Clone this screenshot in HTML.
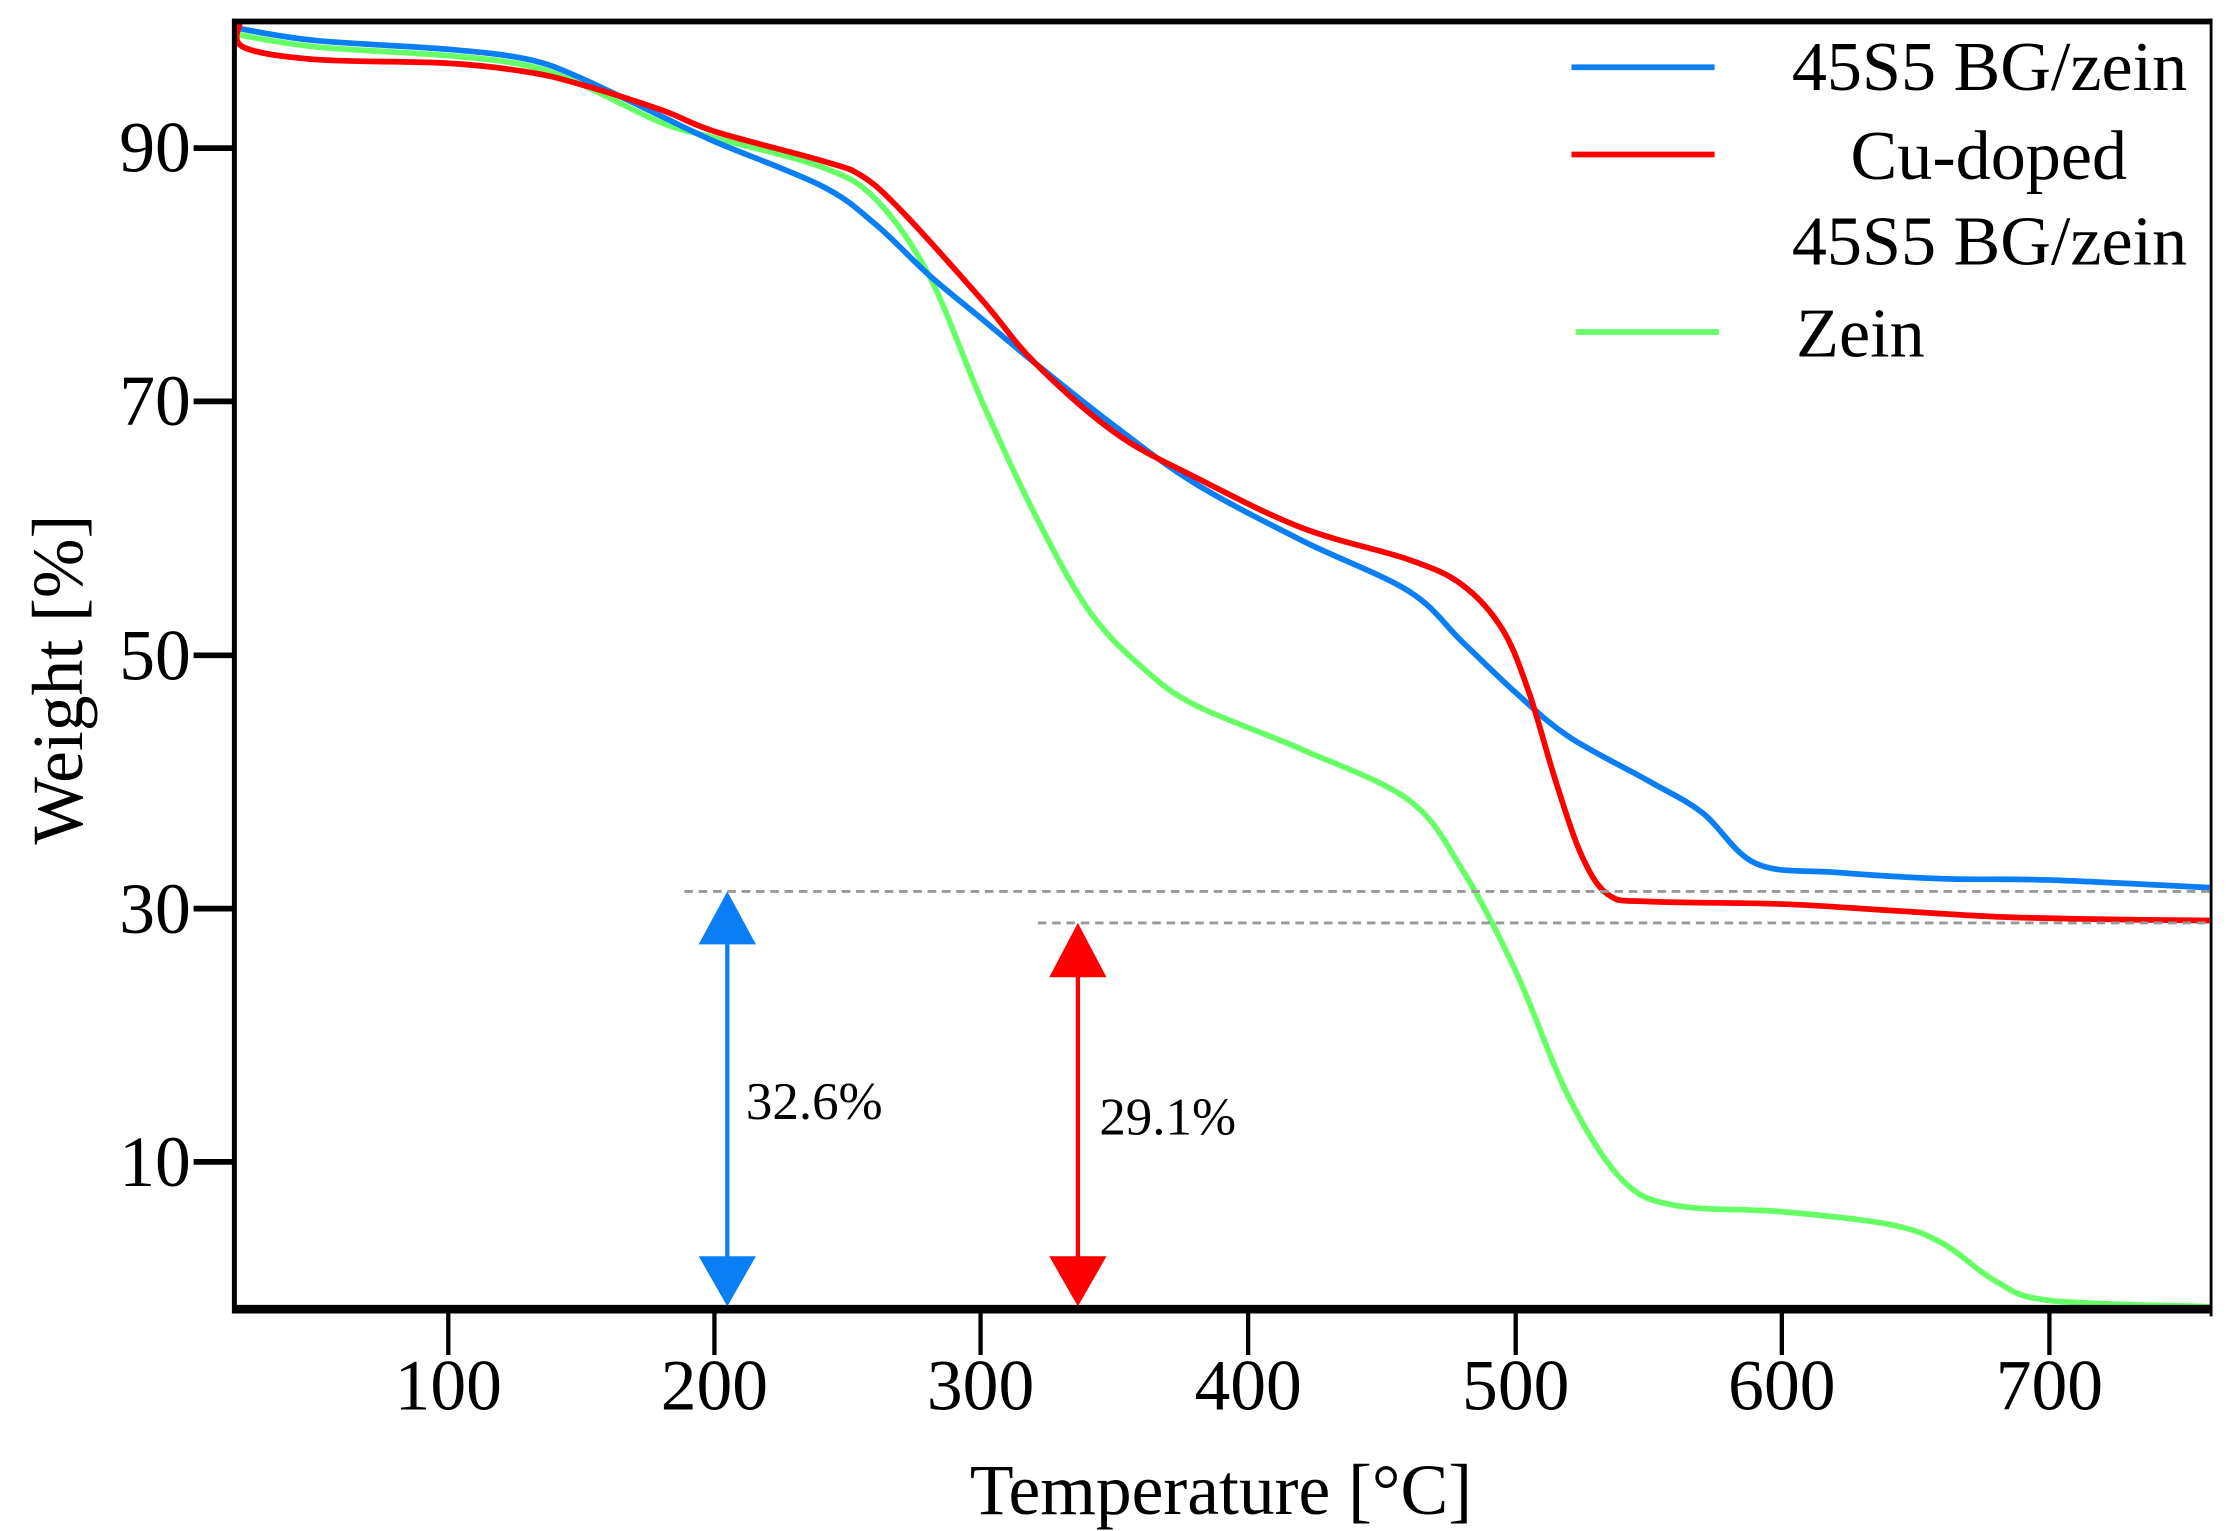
<!DOCTYPE html>
<html><head><meta charset="utf-8"><style>html,body{margin:0;padding:0;background:#fff}svg{display:block}</style></head>
<body>
<svg id="s" width="2233" height="1531" viewBox="0 0 1560 1070" xmlns="http://www.w3.org/2000/svg" font-family="Liberation Serif, serif">
<rect width="1560" height="1070" fill="#fff"/>
<g id="curves" fill="none" stroke-width="4" stroke-linejoin="round"></g>
<line x1="478" y1="623" x2="1545" y2="623" stroke="#999" stroke-width="2" stroke-dasharray="6,4"/>
<line x1="725" y1="645" x2="1545" y2="645" stroke="#999" stroke-width="2" stroke-dasharray="6,4"/>
<line x1="508" y1="650" x2="508" y2="885" stroke="#0a7ff5" stroke-width="3"/>
<polygon points="508,623 488,660 528,660" fill="#0a7ff5"/>
<polygon points="508,913 488,878 528,878" fill="#0a7ff5"/>
<line x1="753" y1="670" x2="753" y2="885" stroke="#f00" stroke-width="3"/>
<polygon points="753,645 733,683 773,683" fill="#f00"/>
<polygon points="753,913 733,878 773,878" fill="#f00"/>
<text x="521" y="782" font-size="37">32.6%</text>
<text x="768" y="793" font-size="37">29.1%</text>
<g stroke="#000" fill="none">
<line x1="163.5" y1="13" x2="163.5" y2="918" stroke-width="3.5"/>
<line x1="162" y1="15" x2="1546" y2="15" stroke-width="4"/>
<line x1="162" y1="915" x2="1546" y2="915" stroke-width="6"/>
<line x1="1545" y1="13" x2="1545" y2="920" stroke-width="2"/>
<line x1="135" y1="103.5" x2="163" y2="103.5" stroke-width="4"/>
<line x1="135" y1="280.5" x2="163" y2="280.5" stroke-width="4"/>
<line x1="135" y1="458" x2="163" y2="458" stroke-width="4"/>
<line x1="135" y1="635" x2="163" y2="635" stroke-width="4"/>
<line x1="135" y1="812" x2="163" y2="812" stroke-width="4"/>
<line x1="313" y1="915" x2="313" y2="947" stroke-width="3"/>
<line x1="499" y1="915" x2="499" y2="947" stroke-width="3"/>
<line x1="685" y1="915" x2="685" y2="947" stroke-width="3"/>
<line x1="872" y1="915" x2="872" y2="947" stroke-width="3"/>
<line x1="1059" y1="915" x2="1059" y2="947" stroke-width="3"/>
<line x1="1245" y1="915" x2="1245" y2="947" stroke-width="3"/>
<line x1="1432" y1="915" x2="1432" y2="947" stroke-width="3"/>
</g>
<g font-size="50" text-anchor="end">
<text x="133" y="120">90</text><text x="133" y="297">70</text><text x="133" y="475">50</text><text x="133" y="652">30</text><text x="133" y="829">10</text>
</g>
<g font-size="50" text-anchor="middle">
<text x="313" y="985">100</text><text x="499" y="985">200</text><text x="685" y="985">300</text><text x="872" y="985">400</text><text x="1059" y="985">500</text><text x="1245" y="985">600</text><text x="1432" y="985">700</text>
</g>
<text x="853" y="1058" font-size="50" text-anchor="middle">Temperature [°C]</text>
<text transform="translate(57,475) rotate(-90)" font-size="50" text-anchor="middle">Weight [%]</text>
<line x1="1098" y1="47" x2="1198" y2="47" stroke="#0a7ff5" stroke-width="4"/>
<line x1="1098" y1="108" x2="1198" y2="108" stroke="#f00" stroke-width="4"/>
<line x1="1101" y1="232" x2="1201" y2="232" stroke="#66ff66" stroke-width="4"/>
<g font-size="49">
<text x="1252" y="63">45S5 BG/zein</text>
<text x="1293" y="125">Cu-doped</text>
<text x="1252" y="185">45S5 BG/zein</text>
<text x="1255" y="249">Zein</text>
</g>
</svg>
<script>
function X(t){return 313+(t-100)*1.865}
function Y(w){return 103.5+(90-w)*8.85}
var data={
"#66ff66":[[20,99],[50,98],[100,97.3],[130,96.5],[150,95],[180,92],[200,90.8],[240,88.5],[260,86],[280,80],[300,70],[320,61],[340,53.5],[360,49],[380,46],[420,42.5],[460,38.5],[480,33],[500,25],[520,15],[540,8.5],[560,6.5],[600,6],[640,5],[660,3.5],[680,0.5],[700,-1],[760,-1.5]],
"#0a7ff5":[[20,99.5],[50,98.5],[100,97.8],[130,97],[150,95.5],[180,92.5],[200,90.5],[240,87],[260,84],[280,80],[300,76.5],[320,73],[350,68],[380,63.5],[420,59],[460,55],[480,51],[500,47],[520,43.5],[550,40],[570,37.5],[590,33.5],[620,32.8],[660,32.3],[700,32.2],[760,31.6]],
"#ff0000":[[22,100],[23,98],[50,97],[100,96.7],[130,96],[150,95],[180,93],[200,91.3],[240,89],[255,87.8],[270,85],[300,78],[320,73],[350,67.5],[380,64],[420,60],[460,57.5],[480,55.5],[495,52],[505,47],[515,40],[525,34],[535,31],[550,30.5],[600,30.3],[640,29.8],[680,29.3],[720,29.1],[760,29.0]]};
var g=document.getElementById("curves"),ns="http://www.w3.org/2000/svg";
for(var c in data){var p=data[c],pts=p.map(function(q){return [X(q[0]),Y(q[1])]});
var d="M"+pts[0][0]+","+pts[0][1];
for(var i=0;i<pts.length-1;i++){var p0=pts[Math.max(i-1,0)],p1=pts[i],p2=pts[i+1],p3=pts[Math.min(i+2,pts.length-1)];
d+=" C"+(p1[0]+(p2[0]-p0[0])/6)+","+(p1[1]+(p2[1]-p0[1])/6)+" "+(p2[0]-(p3[0]-p1[0])/6)+","+(p2[1]-(p3[1]-p1[1])/6)+" "+p2[0]+","+p2[1];}
var e=document.createElementNS(ns,"path");e.setAttribute("d",d);e.setAttribute("stroke",c);g.appendChild(e);}
</script>
</body></html>
